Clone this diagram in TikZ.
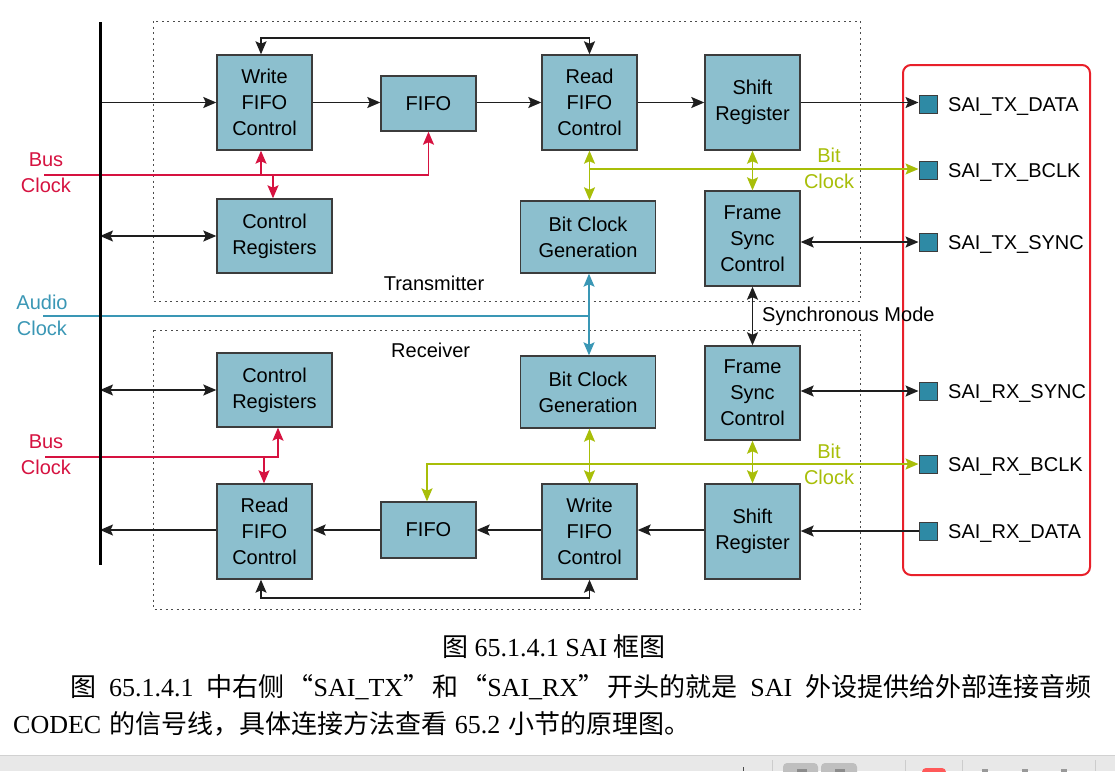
\documentclass[tikz,border=0pt]{standalone}
\usepackage{fontspec}
\setmainfont{Liberation Sans}
\newfontfamily\timesf{Liberation Serif}
\newfontfamily\cjk{Noto Sans CJK SC}
\usetikzlibrary{arrows.meta}
\definecolor{boxfill}{RGB}{140,191,206}
\definecolor{boxline}{RGB}{60,60,60}
\definecolor{busred}{RGB}{214,18,64}
\definecolor{bitgreen}{RGB}{168,190,8}
\definecolor{audioteal}{RGB}{58,151,181}
\definecolor{pinfill}{RGB}{46,138,165}
\definecolor{panelred}{RGB}{232,32,42}
\definecolor{linegray}{RGB}{30,30,30}
\newcommand{\qgap}{\hspace{3pt}}
\begin{document}
\begin{tikzpicture}[x=1pt,y=-1pt,
  >={Stealth[length=13pt,width=11pt,inset=2.5pt]},
  blk/.style={draw=boxline, fill=boxfill, line width=1.4pt, align=center, inner sep=0pt, font=\fontsize{20}{26}\selectfont, text=black},
  pin/.style={draw=boxline, fill=pinfill, line width=1pt, minimum size=18pt, inner sep=0pt},
  lbl/.style={font=\fontsize{20}{26}\selectfont, align=center, inner sep=0pt},
  conn/.style={line width=1.5pt, draw=linegray},
  bclk/.style={line width=1.4pt, draw=busred},
  bit/.style={line width=1.4pt, draw=bitgreen},
  aud/.style={line width=1.4pt, draw=audioteal},
  grp/.style={draw=black!70, line width=1pt, dash pattern=on 2pt off 3.5pt},
  para/.style={anchor=base west, inner sep=0pt, font=\fontsize{26}{30}\selectfont\timesf}]
\fill[white] (0,0) rectangle (1115,771);
\useasboundingbox (0,0) rectangle (1115,771);

% group frames
\draw[grp] (153,21) rectangle (860,301);
\draw[grp] (153,330) rectangle (860,609);
\node[lbl, anchor=base] (ttx) at (434,290) {Transmitter};
\node[lbl, anchor=base west] (trx) at (391,357) {Receiver};

% right panel
\draw[draw=panelred, line width=2pt, rounded corners=8pt] (903,65) rectangle (1090,575);

% transmitter blocks
\node[blk, minimum width=95pt, minimum height=95pt] (twfc) at (264.5,102.5) {Write\\FIFO\\Control};
\node[blk, minimum width=95pt, minimum height=55pt] (tfifo) at (428.5,103.5) {FIFO};
\node[blk, minimum width=95pt, minimum height=95pt] (trfc) at (589.5,102.5) {Read\\FIFO\\Control};
\node[blk, minimum width=95pt, minimum height=95pt] (tsr) at (752.5,102.5) {Shift\\Register};
\node[blk, minimum width=115pt, minimum height=74pt] (tcr) at (274.5,236) {Control\\Registers};
\node[blk, minimum width=135pt, minimum height=72pt] (tbcg) at (588,237) {Bit Clock\\Generation};
\node[blk, minimum width=95pt, minimum height=95pt] (tfsc) at (752.5,238.5) {Frame\\Sync\\Control};

% receiver blocks
\node[blk, minimum width=115pt, minimum height=74pt] (rcr) at (274.5,390) {Control\\Registers};
\node[blk, minimum width=135pt, minimum height=72pt] (rbcg) at (588,392) {Bit Clock\\Generation};
\node[blk, minimum width=95pt, minimum height=94pt] (rfsc) at (752.5,393) {Frame\\Sync\\Control};
\node[blk, minimum width=95pt, minimum height=95pt] (rrfc) at (264.5,531.5) {Read\\FIFO\\Control};
\node[blk, minimum width=95pt, minimum height=56pt] (rfifo) at (428.5,530) {FIFO};
\node[blk, minimum width=95pt, minimum height=95pt] (rwfc) at (589.5,531.5) {Write\\FIFO\\Control};
\node[blk, minimum width=95pt, minimum height=95pt] (rsr) at (752.5,531.5) {Shift\\Register};

% pins
\node[pin] (ptxdata) at (928,104) {};
\node[pin] (ptxbclk) at (928,170) {};
\node[pin] (ptxsync) at (928,242) {};
\node[pin] (prxsync) at (928,391) {};
\node[pin] (prxbclk) at (928,464) {};
\node[pin] (prxdata) at (928,531) {};
\node[lbl, anchor=base west] (ltxdata) at (948,111) {SAI\_TX\_DATA};
\node[lbl, anchor=base west] (ltxbclk) at (948,177) {SAI\_TX\_BCLK};
\node[lbl, anchor=base west] (ltxsync) at (948,249) {SAI\_TX\_SYNC};
\node[lbl, anchor=base west] (lrxsync) at (948,398) {SAI\_RX\_SYNC};
\node[lbl, anchor=base west] (lrxbclk) at (948,471) {SAI\_RX\_BCLK};
\node[lbl, anchor=base west] (lrxdata) at (948,538) {SAI\_RX\_DATA};

% coordinates
\coordinate (bus) at (100,0);
\coordinate (busT) at (100,22);
\coordinate (busB) at (100,565);
\coordinate (fbT) at (261,38);
\coordinate (fbB) at (261,598);
\coordinate (bcT) at (44,175);
\coordinate (bcT1) at (261,175);
\coordinate (bcT2) at (273,175);
\coordinate (bcR) at (45,457);
\coordinate (bcR1) at (264,457);
\coordinate (bcR2) at (278,457);
\coordinate (acL) at (43,316);
\coordinate (acJ) at (589,316);
\coordinate (tbk) at (589.5,169);
\coordinate (rbk) at (427,464);
\coordinate (rbcx) at (589.5,0);

% transmitter data path
\draw[conn,->] (bus |- twfc.west) -- (twfc.west);
\draw[conn,->] (twfc.east) -- (twfc.east -| tfifo.west);
\draw[conn,->] (tfifo.east |- twfc.east) -- (trfc.west);
\draw[conn,->] (trfc.east) -- (tsr.west);
\draw[conn,->] (tsr.east) -- (tsr.east -| ptxdata.west);
\draw[conn,<->] (twfc.north -| fbT) -- (fbT) -| (trfc.north);
\draw[conn,<->] (bus |- tcr.west) -- (tcr.west);
\draw[conn,<->] (tfsc.east |- ptxsync.west) -- (ptxsync.west);

% transmitter bus clock
\draw[bclk,->] (bcT) -| (tfifo.south);
\draw[bclk,->] (bcT1) -- (bcT1 |- twfc.south);
\draw[bclk,->] (bcT2) -- (bcT2 |- tcr.north);

% transmitter bit clock
\draw[bit,<->] (trfc.south) -- (trfc.south |- tbcg.north);
\draw[bit,<->] (tsr.south) -- (tfsc.north);
\draw[bit,->] (tbk) -- (tbk -| ptxbclk.west);

% audio clock
\draw[aud] (acL) -- (acJ);
\draw[aud,->] (acJ) -- (acJ |- tbcg.south);
\draw[aud,->] (acJ) -- (acJ |- rbcg.north);

% synchronous mode
\draw[conn,<->] (tfsc.south) -- (rfsc.north);
\node[lbl, anchor=base west] (lsync) at (762,321) {Synchronous Mode};

% receiver data path
\draw[conn,<->] (bus |- rcr.west) -- (rcr.west);
\draw[conn,->] (rrfc.west |- rfifo.west) -- (bus |- rfifo.west);
\draw[conn,->] (rfifo.west) -- (rfifo.west -| rrfc.east);
\draw[conn,->] (rfifo.east -| rwfc.west) -- (rfifo.east);
\draw[conn,->] (rsr.west |- rfifo.east) -- (rfifo.east -| rwfc.east);
\draw[conn,->] (prxdata.west) -- (prxdata.west -| rsr.east);
\draw[conn,<->] (rrfc.south -| fbB) -- (fbB) -| (rwfc.south);
\draw[conn,<->] (rfsc.east |- prxsync.west) -- (prxsync.west);

% receiver bus clock
\draw[bclk,->] (bcR) -- (bcR2) -- (bcR2 |- rcr.south);
\draw[bclk,->] (bcR1) -- (bcR1 |- rrfc.north);

% receiver bit clock
\draw[bit,<->] (rfifo.north -| rbk) -- (rbk) -- (rbk -| prxbclk.west);
\draw[bit,<->] (rbcx |- rbcg.south) -- (rbcx |- rwfc.north);
\draw[bit,<->] (rfsc.south) -- (rsr.north);

% system bus
\draw[line width=3pt, draw=black] (busT) -- (busB);

% signal labels
\node[lbl, text=busred] (lbusT) at (46,173) {Bus\\Clock};
\node[lbl, text=busred] (lbusR) at (46,454.5) {Bus\\Clock};
\node[lbl, text=audioteal] (laud) at (42,315) {Audio\\Clock};
\node[lbl, text=bitgreen] (lbitT) at (829,168.5) {Bit\\Clock};
\node[lbl, text=bitgreen] (lbitR) at (829,464) {Bit\\Clock};

% caption and paragraph
\node[anchor=base, inner sep=0pt, font=\fontsize{26}{30}\selectfont\timesf] (cap) at (554,656)
  {\makebox[223pt][s]{{\cjk 图} 65.1.4.1 SAI {\cjk 框图}}};
\node[para] (p1) at (70,696)
  {\makebox[1021pt][s]{{\cjk 图} 65.1.4.1 {\cjk 中右侧\qgap“}SAI\_TX{\cjk ”\qgap 和\qgap“}SAI\_RX{\cjk ”\qgap 开头的就是} SAI {\cjk 外设提供给外部连接音频}}};
\node[para] (p2) at (13,733)
  {\makebox[677pt][s]{CODEC {\cjk 的信号线，具体连接方法查看} 65.2 {\cjk 小节的原理图。}}};

% viewer toolbar strip
\fill[black!9] (0,756) rectangle (1115,771);
\draw[black!18, line width=1pt] (0,755.5) -- (1115,755.5);
\draw[black!70, line width=0.8pt] (743,767) -- (743,771);
\draw[black!20, line width=0.8pt] (772,760) -- (772,771);
\draw[black!20, line width=0.8pt] (905,760) -- (905,771);
\draw[black!20, line width=0.8pt] (962,760) -- (962,771);
\draw[black!20, line width=0.8pt] (1095,760) -- (1095,771);
\fill[black!25, rounded corners=4pt] (783,763) rectangle (818,780);
\fill[black!25, rounded corners=4pt] (821,763) rectangle (857,780);
\fill[black!45] (797,769) rectangle (807,772);
\fill[black!45] (835,769) rectangle (845,772);
\fill[red!65, rounded corners=4pt] (922,768) rectangle (946,780);
\fill[black!40] (982,769) rectangle (988,772);
\fill[black!40] (1022,769) rectangle (1028,772);
\fill[black!40] (1061,769) rectangle (1067,772);
\end{tikzpicture}
\end{document}
